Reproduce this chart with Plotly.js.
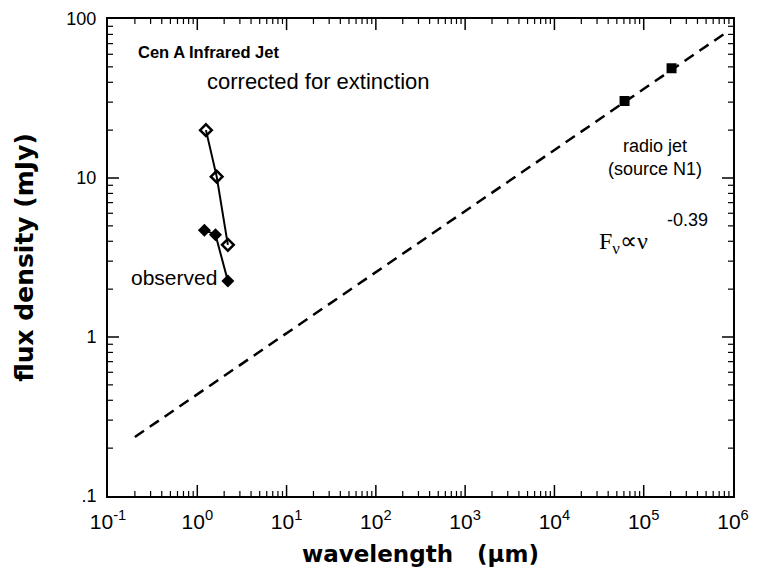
<!DOCTYPE html>
<html><head><meta charset="utf-8">
<script src="https://cdn.plot.ly/plotly-3.0.1.min.js"></script>
<style>body{margin:0;background:#fff}#chart{width:762px;height:580px}</style>
</head><body><div id="chart"></div>
<script>
// Data
const correctedX = [1.25, 1.65, 2.2];
const correctedY = [20, 10.2, 3.8];
const observedX = [1.2, 1.6, 2.2];
const observedY = [4.7, 4.4, 2.25];
const radioX = [6.1e4, 2.05e5];
const radioY = [30.5, 49];
const fitX = [0.2, 8.6e5];
const fitY = [0.235, 83];
const xTickVals = [0.1, 1, 10, 100, 1000, 1e4, 1e5, 1e6];
const xTickText = ['10<sup>-1</sup>','10<sup>0</sup>','10<sup>1</sup>','10<sup>2</sup>','10<sup>3</sup>','10<sup>4</sup>','10<sup>5</sup>','10<sup>6</sup>'];
const yTickVals = [0.1, 1, 10, 100];
const yTickText = ['.1', '1', '10', '100'];

function minorVals(lo, hi) {
  const v = [];
  for (let e = lo; e < hi; e++) for (let m = 2; m <= 9; m++) v.push(m * Math.pow(10, e));
  return v;
}

// Tick marks drawn as axis-referenced shapes (inside, on all four sides)
function xTickShapes(vals, len, w) {
  const s = [];
  vals.forEach(v => {
    s.push({type: 'line', xref: 'x', yref: 'paper', x0: v, x1: v, ysizemode: 'pixel', yanchor: 0, y0: 0, y1: len, line: {color: '#000', width: w}});
    s.push({type: 'line', xref: 'x', yref: 'paper', x0: v, x1: v, ysizemode: 'pixel', yanchor: 1, y0: 0, y1: -len, line: {color: '#000', width: w}});
  });
  return s;
}
function yTickShapes(vals, len, w) {
  const s = [];
  vals.forEach(v => {
    s.push({type: 'line', yref: 'y', xref: 'paper', y0: v, y1: v, xsizemode: 'pixel', xanchor: 0, x0: 0, x1: len, line: {color: '#000', width: w}});
    s.push({type: 'line', yref: 'y', xref: 'paper', y0: v, y1: v, xsizemode: 'pixel', xanchor: 1, x0: 0, x1: -len, line: {color: '#000', width: w}});
  });
  return s;
}

const font = 'Liberation Sans, Arial, sans-serif';
const bigFont = 'DejaVu Sans, Liberation Sans, sans-serif';
const traces = [
  {x: fitX, y: fitY, mode: 'lines', line: {color: '#000', width: 2.5, dash: '11px,7px'}, hoverinfo: 'skip'},
  {x: correctedX, y: correctedY, mode: 'lines+markers', line: {color: '#000', width: 2},
   marker: {symbol: 'diamond-open', size: 9, color: '#000', line: {width: 2.5, color: '#000'}}},
  {x: observedX, y: observedY, mode: 'lines+markers', line: {color: '#000', width: 2},
   marker: {symbol: 'diamond', size: 10, color: '#000'}},
  {x: radioX, y: radioY, mode: 'markers', marker: {symbol: 'square', size: 10, color: '#000'}}
];

const shapes = [].concat(
  xTickShapes(xTickVals.slice(1, -1), 11, 1.5),
  xTickShapes(minorVals(-1, 6), 5, 1.2),
  yTickShapes(yTickVals.slice(1, -1), 11, 1.5),
  yTickShapes(minorVals(-1, 2), 5, 1.2)
);

const layout = {
  width: 762, height: 580,
  margin: {l: 108, r: 29, t: 19, b: 84},
  showlegend: false,
  shapes: shapes,
  xaxis: {
    type: 'log', range: [-1, 6], showline: true, linecolor: '#000', linewidth: 2, showgrid: false, zeroline: false,
    mirror: true, ticks: '', tickvals: xTickVals, ticktext: xTickText,
    tickfont: {size: 21, family: font, color: '#000'}, ticklabelstandoff: 6,
    title: {text: '<b>wavelength   (µm)</b>', font: {size: 23, family: bigFont, color: '#000'}, standoff: 14}
  },
  yaxis: {
    type: 'log', range: [-1, 2], showline: true, linecolor: '#000', linewidth: 2, showgrid: false, zeroline: false,
    mirror: true, ticks: '', tickvals: yTickVals, ticktext: yTickText,
    tickfont: {size: 18, family: font, color: '#000'}, ticklabelstandoff: 6,
    title: {text: '<b>flux density (mJy)</b>', font: {size: 25, family: bigFont, color: '#000'}, standoff: 26}
  },
  annotations: [
    {xref: 'paper', yref: 'paper', x: 0.044, y: 0.93, xanchor: 'left', yanchor: 'middle', showarrow: false,
     text: '<b>Cen A Infrared Jet</b>', font: {size: 16.5, family: font, color: '#000'}},
    {xref: 'paper', yref: 'paper', x: 0.155, y: 0.868, xanchor: 'left', yanchor: 'middle', showarrow: false,
     text: 'corrected for extinction', font: {size: 22, family: font, color: '#000'}},
    {xref: 'paper', yref: 'paper', x: 0.033, y: 0.458, xanchor: 'left', yanchor: 'middle', showarrow: false,
     text: 'observed', font: {size: 21, family: font, color: '#000'}},
    {xref: 'paper', yref: 'paper', x: 0.875, y: 0.71, xanchor: 'center', yanchor: 'middle', showarrow: false,
     text: 'radio jet<br>(source N1)', font: {size: 18, family: font, color: '#000'}},
    {xref: 'paper', yref: 'paper', x: 0.963, y: 0.579, xanchor: 'right', yanchor: 'middle', showarrow: false,
     text: '-0.39', font: {size: 18, family: font, color: '#000'}},
    {xref: 'paper', yref: 'paper', x: 0.783, y: 0.53, xanchor: 'left', yanchor: 'middle', showarrow: false,
     text: 'F<sub>ν</sub>∝ν', font: {size: 24, family: 'Liberation Serif, Times New Roman, serif', color: '#000'}}
  ]
};

Plotly.newPlot('chart', traces, layout, {displayModeBar: false});
</script>
</body></html>
